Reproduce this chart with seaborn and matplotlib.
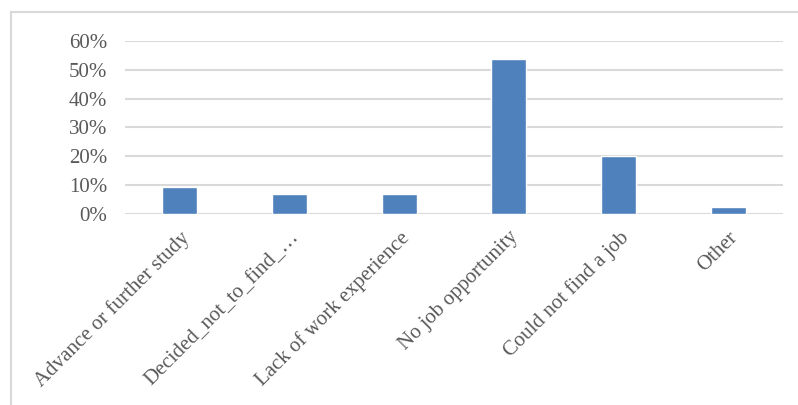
import matplotlib
matplotlib.use("Agg")
import matplotlib.pyplot as plt
import seaborn as sns
import pandas as pd
from matplotlib.patches import Rectangle
from matplotlib.ticker import PercentFormatter

reasons = [
    "Advance or further study",
    "Decided_not_to_find_\u2026",
    "Lack of work experience",
    "No job opportunity",
    "Could not find a job",
    "Other",
]
shares = [0.095, 0.07, 0.07, 0.537, 0.20, 0.024]
y_ticks = [0.0, 0.1, 0.2, 0.3, 0.4, 0.5, 0.6]

df = pd.DataFrame({"reason": reasons, "share": shares})

sns.set_theme(style="white")
plt.rcParams["font.family"] = ["Liberation Serif", "DejaVu Serif"]

fig = plt.figure(figsize=(7.98, 4.05), dpi=100)
ax = fig.add_axes([125 / 798, 1 - 214 / 405, (783 - 125) / 798, (214 - 41) / 405])

sns.barplot(data=df, x="reason", y="share", color="#4f81bd", saturation=1,
            width=0.32, ax=ax, zorder=3)

ax.set_ylim(0, 0.6)
ax.set_xlim(-0.5, len(reasons) - 0.5)
ax.set_yticks(y_ticks)
ax.yaxis.set_major_formatter(PercentFormatter(1.0, decimals=0))
ax.grid(axis="y", color="#d9d9d9", linewidth=1.5, zorder=0)
ax.set_axisbelow(True)
for s in ax.spines.values():
    s.set_visible(False)
ax.set_xlabel("")
ax.set_ylabel("")
ax.tick_params(axis="both", length=0, labelsize=15, labelcolor="#595959")
ax.tick_params(axis="y", pad=13)
ax.tick_params(axis="x", pad=10)
for lbl in ax.get_xticklabels():
    lbl.set_rotation(45)
    lbl.set_ha("right")
    lbl.set_va("top")
    lbl.set_rotation_mode("anchor")

# chart border
fig.patches.append(Rectangle((11 / 798, -0.05), 1.1, 1 - 12 / 405 + 0.05,
                             transform=fig.transFigure, fill=False,
                             edgecolor="#d9d9d9", linewidth=1.5))

fig.savefig("out.png", dpi=100)
